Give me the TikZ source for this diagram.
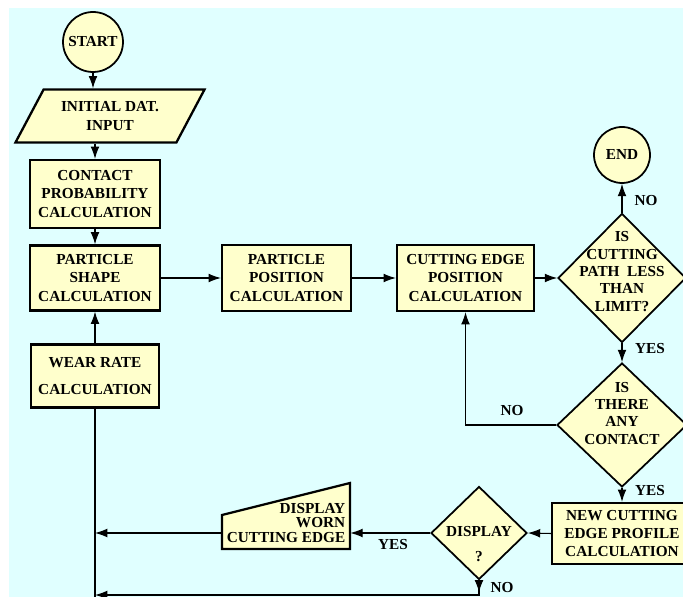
\documentclass[tikz,border=0pt]{standalone}
\usepackage{fontspec}
\setmainfont{Liberation Serif}
\usetikzlibrary{arrows.meta, shapes.geometric}

\definecolor{bgcyan}{RGB}{224,255,255}
\definecolor{nodefill}{RGB}{255,255,204}
\newcommand{\flowfont}{\fontsize{8.7}{10.4}\selectfont\bfseries}

\tikzset{
  box/.style={rectangle, draw, line width=1.3pt, fill=nodefill, align=center, font=\flowfont},
  term/.style={circle, draw, line width=1pt, fill=nodefill, inner sep=0pt, font=\flowfont},
  para/.style={trapezium, trapezium left angle=60, trapezium right angle=120, trapezium stretches=true,
    draw, line width=1.3pt, fill=nodefill, align=center, font=\flowfont},
  decision/.style={diamond, draw, line width=1pt, fill=nodefill, align=center, inner sep=-1cm, font=\flowfont},
  lbl/.style={font=\flowfont, inner sep=0pt},
  conn/.style={line width=0.6pt, -{Latex[length=7pt,width=5pt]}},
  plain/.style={line width=0.6pt}
}

\begin{document}
\begin{tikzpicture}[x=0.02cm, y=-0.02cm]
\useasboundingbox (0,0) rectangle (683,597);
\clip (0,0) rectangle (683,597);
\fill[bgcyan] (9,8) rectangle (683,597);

% left column
\node[term, minimum size=1.2cm] (start) at (93,42) {START};
\node[para, minimum width=3.8cm, minimum height=1.06cm] (init) at (110,116) {INITIAL DAT.\\INPUT};
\node[box, minimum width=2.6cm, minimum height=1.36cm] (contact) at (95,194) {CONTACT\\PROBABILITY\\CALCULATION};
\node[box, minimum width=2.6cm, minimum height=1.3cm] (shape) at (95,278) {PARTICLE\\SHAPE\\CALCULATION};
\node[box, minimum width=2.56cm, minimum height=1.26cm] (wear) at (95,376) {WEAR RATE\\[5pt]CALCULATION};
\coordinate (bottom) at (95,597);
\coordinate (ret) at (95,595);

% middle row
\node[box, minimum width=2.58cm, minimum height=1.32cm] (ppos) at (286.5,278) {PARTICLE\\POSITION\\CALCULATION};
\node[box, minimum width=2.74cm, minimum height=1.32cm] (cepos) at (465.5,278) {CUTTING EDGE\\POSITION\\CALCULATION};

% right column
\node[term, minimum size=1.12cm] (end) at (622,155) {END};
\node[decision, minimum width=2.56cm, minimum height=2.58cm] (limit) at (622,278)
  {IS\\[-0.5pt]CUTTING\\[-0.5pt]PATH\ \ LESS\\[-0.5pt]THAN\\[-0.5pt]LIMIT?\\[-3pt]\mbox{}};
\node[decision, minimum width=2.6cm, minimum height=2.48cm] (contact2) at (622,425)
  {IS\\[-0.5pt]THERE\\[-0.5pt]ANY\\[-0.5pt]CONTACT\\[3pt]\mbox{}};
\node[box, minimum width=2.8cm, minimum height=1.22cm] (profile) at (622,533.5) {NEW CUTTING\\EDGE PROFILE\\CALCULATION};
\node[decision, minimum width=1.92cm, minimum height=1.86cm] (display) at (479,533) {\mbox{}\\[8pt]DISPLAY\\[4pt]?};

% display worn cutting edge
\filldraw[fill=nodefill, line width=1.3pt] (222,549) -- (350,549) -- (350,483) -- (222,515) -- cycle;
\node[lbl, minimum width=2.56cm, minimum height=1.04cm, align=right] (worn) at (286,523)
  {DISPLAY\\[-2pt]WORN\hspace*{0.52cm}\\[-2pt]CUTTING EDGE};

% connectors
\draw[conn] (start) -- (start |- init.north);
\draw[conn] (contact.north |- init.south) -- (contact.north);
\draw[conn] (contact) -- (shape);
\draw[conn] (wear) -- (shape);
\draw[plain] (wear.south) -- (bottom);
\draw[conn] (shape.east) -- (ppos.west);
\draw[conn] (ppos.east) -- (cepos.west);
\draw[conn] (cepos.east) -- (limit.west);
\draw[conn] (limit.north) -- (end.south);
\draw[conn] (limit.south) -- (contact2.north);
\draw[conn] (contact2.west) -| (cepos.south);
\draw[conn] (contact2.south) -- (profile.north);
\draw[conn] (profile.west) -- (display.east);
\draw[conn] (display.west) -- (display.west -| worn.east);
\draw[conn] (worn.west |- display.west) -- (wear.south |- display.west);
\draw[conn] (display.south) |- (ret);
\draw[conn] (display.south) -- ++(0,12);

% labels
\node[lbl] (no1) at (646,201) {NO};
\node[lbl] (yes1) at (650,349) {YES};
\node[lbl] (no2) at (512,411) {NO};
\node[lbl] (yes2) at (650,491) {YES};
\node[lbl] (yes3) at (393,545) {YES};
\node[lbl] (no3) at (502,588) {NO};
\end{tikzpicture}
\end{document}
